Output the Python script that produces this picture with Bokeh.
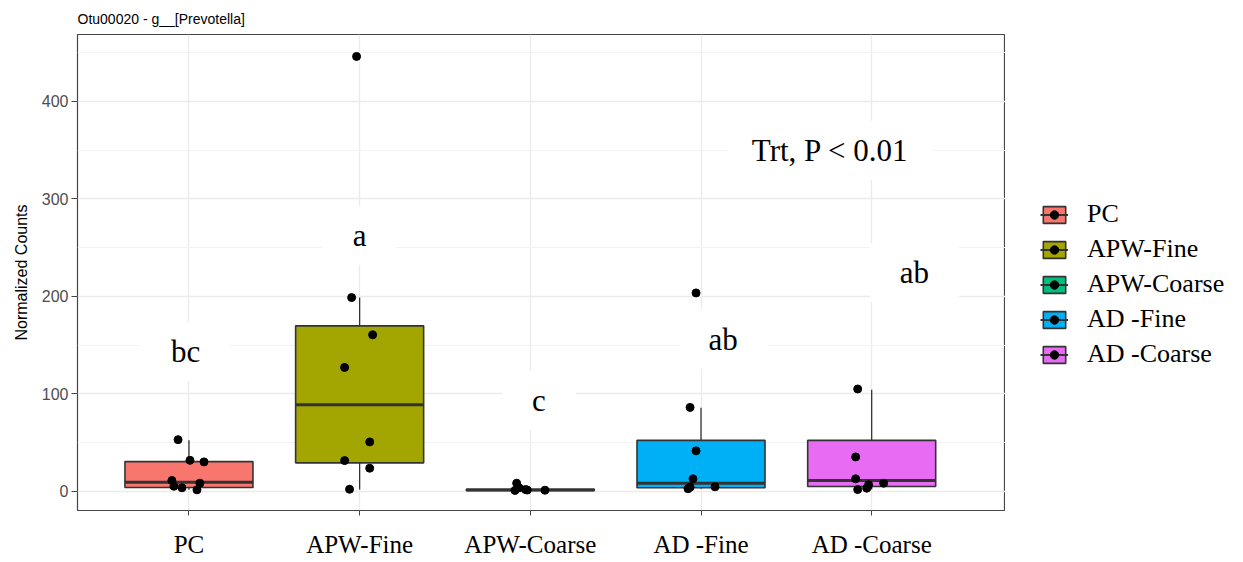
from bokeh.plotting import figure
from bokeh.layouts import row
from bokeh.models import (FixedTicker, Label, Legend, LegendItem, ColumnDataSource, Range1d)
from bokeh.embed import file_html
from bokeh.resources import INLINE

# ---------------- data ----------------
groups = ["PC", "APW-Fine", "APW-Coarse", "AD -Fine", "AD -Coarse"]
colors = ["#F8766D", "#A3A500", "#00BF7D", "#00B0F6", "#E76BF3"]

# box statistics
q1 = [3.8, 29.1, 0.8, 3.5, 4.8]
median = [9.2, 88.8, 1.2, 8.2, 11.0]
q3 = [30.4, 169.7, 2.0, 52.2, 52.2]
whisker_lo = [1.4, 1.7, 0.5, 2.5, 1.7]
whisker_hi = [52.2, 198.7, 4.0, 85.7, 104.2]

# individual (jittered) observations
pc_vals = [52.9, 31.7, 30.1, 11.0, 5.1, 3.5, 1.4, 8.2]
pc_jit = [-0.064, 0.006, 0.088, -0.10, -0.088, -0.041, 0.047, 0.064]
apwf_vals = [446.2, 198.7, 160.5, 127.0, 50.6, 31.4, 23.6, 2.0]
apwf_jit = [-0.018, -0.047, 0.076, -0.088, 0.059, -0.088, 0.059, -0.059]
apwc_vals = [8.2, 3.5, 1.7, 1.2, 1.0, 0.8]
apwc_jit = [-0.08, -0.066, -0.028, -0.018, 0.086, -0.09]
adf_vals = [86.0, 203.5, 41.4, 12.7, 2.5, 4.1, 4.5]
adf_jit = [-0.064, -0.029, -0.029, -0.047, -0.076, -0.064, 0.082]
adc_vals = [104.9, 35.2, 12.7, 8.2, 1.7, 3.1, 6.6]
adc_jit = [-0.082, -0.094, -0.094, 0.07, -0.082, -0.029, -0.018]
point_vals = [pc_vals, apwf_vals, apwc_vals, adf_vals, adc_vals]
point_jit = [pc_jit, apwf_jit, apwc_jit, adf_jit, adc_jit]

# significance letters
letters = ["bc", "a", "c", "ab", "ab"]
letter_y = [143.0, 262.6, 93.2, 156.2, 224.5]
stat_text = "Trt, P < 0.01"
stat_y = 350.0

y_ticks = [0, 100, 200, 300, 400]

# ---------------- layout constants ----------------
letter_dx = [-0.02, 0.0, 0.05, 0.13, 0.25]
stat_x = 4.757
box_w = 0.75
SERIF = "Liberation Serif"
SANS = "Liberation Sans"
H = 560

p = figure(width=1005, height=H, output_backend="svg", toolbar_location=None,
           x_range=Range1d(0.347, 5.784), y_range=Range1d(-19.8, 468.7),
           min_border_left=77, min_border_right=0, min_border_top=34,
           min_border_bottom=49, background_fill_color="white",
           border_fill_color="white")

p.title.text = "Otu00020 - g__[Prevotella]"
p.title.text_font = SANS
p.title.text_font_size = "14px"
p.title.text_font_style = "normal"
p.title.text_color = "#000000"
p.title.align = "left"
p.title.standoff = 16

p.outline_line_color = "#444444"
p.outline_line_width = 1.2

# axes
xs = list(range(1, len(groups) + 1))
p.xaxis.ticker = FixedTicker(ticks=xs)
p.xaxis.major_label_overrides = {i: g for i, g in zip(xs, groups)}
p.xaxis.major_label_text_font = SERIF
p.xaxis.major_label_text_font_size = "25px"
p.xaxis.major_label_text_color = "#000000"
p.xaxis.major_label_standoff = 15
p.xaxis.axis_line_color = None
p.xaxis.major_tick_line_color = "#444444"
p.xaxis.major_tick_out = 5
p.xaxis.major_tick_in = 0
p.xaxis.minor_tick_line_color = None

p.yaxis.ticker = FixedTicker(ticks=y_ticks, minor_ticks=[50, 150, 250, 350, 450])
p.yaxis.major_label_text_font = SANS
p.yaxis.major_label_text_font_size = "16px"
p.yaxis.major_label_text_color = "#4D4D4D"
p.yaxis.major_label_standoff = 3
p.yaxis.axis_line_color = None
p.yaxis.major_tick_line_color = "#444444"
p.yaxis.major_tick_out = 6
p.yaxis.major_tick_in = 0
p.yaxis.minor_tick_line_color = None
p.yaxis.axis_label = "Normalized Counts"
p.yaxis.axis_label_text_font = SANS
p.yaxis.axis_label_text_font_size = "16px"
p.yaxis.axis_label_text_font_style = "normal"
p.yaxis.axis_label_text_color = "#000000"
p.yaxis.axis_label_standoff = 9

p.xgrid.ticker = FixedTicker(ticks=xs)
p.xgrid.grid_line_color = "#EBEBEB"
p.xgrid.grid_line_width = 1.3
p.ygrid.grid_line_color = "#EBEBEB"
p.ygrid.grid_line_width = 1.3
p.ygrid.minor_grid_line_color = "#F3F3F3"
p.ygrid.minor_grid_line_width = 1.0

for i, g in enumerate(groups):
    x = xs[i]
    # whiskers
    p.segment(x0=[x, x], y0=[q3[i], whisker_lo[i]], x1=[x, x], y1=[whisker_hi[i], q1[i]],
              line_color="#333333", line_width=1.3)
    src = ColumnDataSource(dict(left=[x - box_w / 2], right=[x + box_w / 2],
                                bottom=[q1[i]], top=[q3[i]]))
    p.quad(left="left", right="right", bottom="bottom", top="top", source=src,
           fill_color=colors[i], line_color="#333333", line_width=1.6)
    p.segment(x0=[x - box_w / 2], x1=[x + box_w / 2], y0=[median[i]], y1=[median[i]],
              line_color="#333333", line_width=3)
    px = [x + j for j in point_jit[i]]
    p.scatter(x=px, y=point_vals[i], size=8, color="#000000")

# letters with white backgrounds
for i, t in enumerate(letters):
    p.add_layout(Label(x=xs[i] + letter_dx[i], y=letter_y[i], text=t,
                       text_font=SERIF, text_font_size="31px", text_color="#000000",
                       text_align="center", text_baseline="alphabetic",
                       background_fill_color="white", padding=(30, 12)))
p.add_layout(Label(x=stat_x, y=stat_y, text=stat_text,
                   text_font=SERIF, text_font_size="31px", text_color="#000000",
                   text_align="center", text_baseline="alphabetic",
                   background_fill_color="white", padding=(24, 12)))

# ---------------- legend panel (separate figure at the right) ----------------
lg = figure(width=235, height=H, output_backend="svg", toolbar_location=None,
            x_range=Range1d(0, 1), y_range=Range1d(0, 1),
            x_axis_type=None, y_axis_type=None,
            min_border_left=0, min_border_right=0, min_border_top=0, min_border_bottom=0,
            background_fill_color="white", border_fill_color="white")
lg.outline_line_color = None
lg.grid.visible = False
nan = float("nan")
items = []
for i, g in enumerate(groups):
    b = lg.quad(left=[nan], right=[nan], bottom=[nan], top=[nan],
                fill_color=colors[i], line_color="#333333", line_width=1.6)
    m = lg.segment(x0=[nan], x1=[nan], y0=[nan], y1=[nan], line_color="#333333", line_width=2)
    d = lg.scatter(x=[nan], y=[nan], size=8, color="#000000")
    items.append(LegendItem(label=g, renderers=[b, m, d]))

legend = Legend(items=items, location=(35, 141), padding=0, margin=0,
                border_line_color=None, background_fill_alpha=0,
                glyph_width=28, glyph_height=21, label_standoff=19, spacing=5,
                label_text_font=SERIF, label_text_font_size="26px",
                label_text_color="#000000")
lg.add_layout(legend, "center")

open("out.html", "w").write(file_html(row(p, lg, spacing=0), INLINE))
